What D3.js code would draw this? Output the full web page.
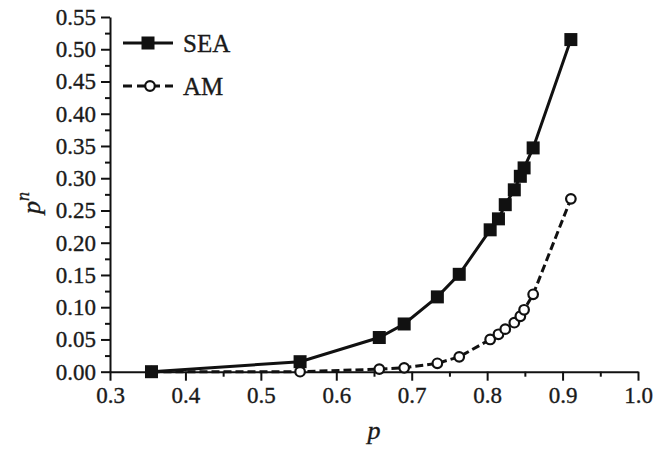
<!DOCTYPE html>
<html>
<head>
    <title>SEA vs AM</title>
    <script src="https://d3js.org/d3.v7.min.js"></script>
    <style>
        body { margin: 0; background: #fff; }
        text { font-family: "Liberation Serif", "Times New Roman", serif; fill: #1a1a1a; stroke: #1a1a1a; stroke-width: 0.35px; }
        .axis path, .axis line { stroke: #111; }
    </style>
</head>
<body>
<script>
    // values
    const pValues = [0.355, 0.552, 0.657, 0.690, 0.734, 0.763, 0.804, 0.815, 0.824, 0.836, 0.844, 0.849, 0.861, 0.911];
    const seaValues = [0.000, 0.0155, 0.053, 0.074, 0.116, 0.151, 0.220, 0.237, 0.259, 0.282, 0.303, 0.316, 0.347, 0.515];
    const amValues = [0.000, 0.000, 0.004, 0.006, 0.013, 0.023, 0.050, 0.058, 0.066, 0.076, 0.086, 0.096, 0.120, 0.268];
    const seriesNames = ["SEA", "AM"];
    const xTicks = [0.3, 0.4, 0.5, 0.6, 0.7, 0.8, 0.9, 1.0];
    const yTicks = [0, 0.05, 0.10, 0.15, 0.20, 0.25, 0.30, 0.35, 0.40, 0.45, 0.50, 0.55];

    const width = 657, height = 462;

    const x = d3.scaleLinear().domain([0.3, 1.0]).range([110, 638]);
    const y = d3.scaleLinear().domain([0, 0.55]).range([371.7, 17]);

    const svg = d3.select("body").append("svg")
        .attr("width", width)
        .attr("height", height);

    // minor ticks
    const xMinor = d3.range(0.35, 1.0, 0.1);
    const yMinor = d3.range(0.025, 0.55, 0.05);

    svg.append("g")
        .attr("class", "axis")
        .attr("transform", "translate(0,371.7)")
        .call(d3.axisBottom(x).tickValues(xMinor).tickSize(5).tickFormat(""))
        .call(g => g.selectAll("line").attr("stroke-width", 2))
        .call(g => g.select(".domain").remove());

    svg.append("g")
        .attr("class", "axis")
        .attr("transform", "translate(110,0)")
        .call(d3.axisLeft(y).tickValues(yMinor).tickSize(5).tickFormat(""))
        .call(g => g.selectAll("line").attr("stroke-width", 2))
        .call(g => g.select(".domain").remove());

    const xAxis = svg.append("g")
        .attr("class", "axis")
        .attr("transform", "translate(0,371.7)")
        .call(d3.axisBottom(x).tickValues(xTicks).tickSize(9).tickSizeOuter(0).tickPadding(6).tickFormat(d3.format(".1f")))
        .attr("font-family", null);
    xAxis.select(".domain").attr("stroke-width", 2);
    xAxis.selectAll("line").attr("stroke-width", 2);
    xAxis.selectAll("text").attr("font-size", 23);

    const yAxis = svg.append("g")
        .attr("class", "axis")
        .attr("transform", "translate(110,0)")
        .call(d3.axisLeft(y).tickValues(yTicks).tickSize(9).tickSizeOuter(0).tickPadding(5).tickFormat(d3.format(".2f")))
        .attr("font-family", null);
    yAxis.select(".domain").attr("stroke-width", 2);
    yAxis.selectAll("line").attr("stroke-width", 2);
    yAxis.selectAll("text").attr("font-size", 23);

    // axis titles
    svg.append("text")
        .attr("x", 374)
        .attr("y", 439)
        .attr("text-anchor", "middle")
        .attr("font-size", 26)
        .attr("font-style", "italic")
        .text("p");

    const yTitle = svg.append("text")
        .attr("transform", "translate(40,203) rotate(-90)")
        .attr("text-anchor", "middle")
        .attr("font-size", 26)
        .attr("font-style", "italic");
    yTitle.append("tspan").text("p");
    yTitle.append("tspan").attr("dy", -11).attr("font-size", 18).text("n");

    const seaData = pValues.map((p, i) => ({ p: p, v: seaValues[i] }));
    const amData = pValues.map((p, i) => ({ p: p, v: amValues[i] }));

    const line = d3.line().x(d => x(d.p)).y(d => y(d.v));

    // AM dashed line + open circles
    svg.append("path")
        .datum(amData)
        .attr("d", line)
        .attr("fill", "none")
        .attr("stroke", "#111")
        .attr("stroke-width", 3)
        .attr("stroke-dasharray", "8,4");

    svg.selectAll(".am")
        .data(amData)
        .join("circle")
        .attr("class", "am")
        .attr("cx", d => x(d.p))
        .attr("cy", d => y(d.v))
        .attr("r", 4.8)
        .attr("fill", "#fff")
        .attr("stroke", "#111")
        .attr("stroke-width", 2.2);

    // SEA solid line + filled squares
    svg.append("path")
        .datum(seaData)
        .attr("d", line)
        .attr("fill", "none")
        .attr("stroke", "#111")
        .attr("stroke-width", 3);

    const sq = 13;
    svg.selectAll(".sea")
        .data(seaData)
        .join("rect")
        .attr("class", "sea")
        .attr("x", d => x(d.p) - sq / 2)
        .attr("y", d => y(d.v) - sq / 2)
        .attr("width", sq)
        .attr("height", sq)
        .attr("fill", "#111");

    // legend
    const legend = svg.append("g");
    seriesNames.forEach((name, i) => {
        const ly = 43 + i * 43;
        legend.append("line")
            .attr("x1", 123).attr("x2", 173)
            .attr("y1", ly).attr("y2", ly)
            .attr("stroke", "#111")
            .attr("stroke-width", 3)
            .attr("stroke-dasharray", i === 1 ? "9,5" : null);
        if (i === 0) {
            legend.append("rect")
                .attr("x", 148 - sq / 2).attr("y", ly - sq / 2)
                .attr("width", sq).attr("height", sq)
                .attr("fill", "#111");
        } else {
            legend.append("circle")
                .attr("cx", 150).attr("cy", ly).attr("r", 4.8)
                .attr("fill", "#fff").attr("stroke", "#111").attr("stroke-width", 2.2);
        }
        legend.append("text")
            .attr("x", 183)
            .attr("y", ly + 8.5)
            .attr("font-size", 25)
            .text(name);
    });
</script>
</body>
</html>
